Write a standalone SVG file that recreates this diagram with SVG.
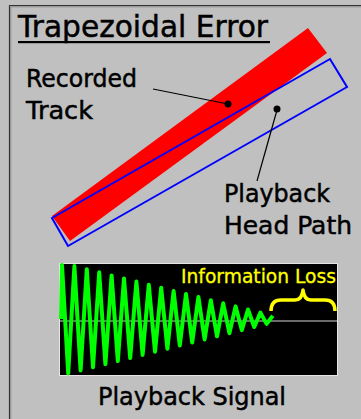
<svg xmlns="http://www.w3.org/2000/svg" width="361" height="419" viewBox="0 0 361 419">
<style>
.lbl{font-family:"DejaVu Sans","Liberation Sans",sans-serif;fill:#000;stroke:#000;stroke-width:0.5}
.lead{stroke:#000;stroke-width:1.2;fill:none}
</style>
<rect x="0" y="0" width="361" height="419" fill="#c0c0c0"/>
<g id="frame">
<path d="M9.5,419 V5.5 H361" fill="none" stroke="#333" stroke-width="1.2"/>
<path d="M10.8,419 V6.8 H361" fill="none" stroke="#8a8a8a" stroke-width="1"/>
</g>
<g id="title">
<text class="lbl" x="18" y="37" font-size="30" textLength="250" lengthAdjust="spacingAndGlyphs">Trapezoidal Error</text>
<rect x="18" y="41" width="252" height="2.2" fill="#000"/>
</g>
<g id="recorded-track">
<polygon points="52,216 308,28 327,53 70,241" fill="#ff0000"/>
</g>
<g id="head-path">
<polygon points="52,218 330,59 347,87 68,246" fill="none" stroke="#0000ff" stroke-width="2"/>
</g>
<g id="label-recorded">
<text class="lbl" x="26" y="87" font-size="24" textLength="111" lengthAdjust="spacingAndGlyphs">Recorded</text>
<text class="lbl" x="26" y="119" font-size="24" textLength="67" lengthAdjust="spacingAndGlyphs">Track</text>
</g>
<g id="label-playback">
<text class="lbl" x="224" y="202" font-size="24" textLength="106" lengthAdjust="spacingAndGlyphs">Playback</text>
<text class="lbl" x="224" y="234" font-size="24" textLength="128" lengthAdjust="spacingAndGlyphs">Head Path</text>
</g>
<g id="connectors">
<line class="lead" x1="153" y1="89" x2="228" y2="104"/>
<circle cx="228" cy="104" r="3.5" fill="#000"/>
<line class="lead" x1="277" y1="110" x2="257" y2="181"/>
<circle cx="277" cy="109" r="3.5" fill="#000"/>
</g>
<g id="signal">
<rect x="59.5" y="263.5" width="278" height="112" fill="#000" stroke="#e6e6e6" stroke-width="1"/>
<line x1="60" y1="321" x2="337" y2="321" stroke="#d8d8d8" stroke-width="1"/>
<polyline fill="none" stroke="#00ff00" stroke-width="4" stroke-linejoin="round" points="61,319 62,265 68.2,373.5 74.4,266.1 80.6,370.4 86.8,269.2 93,367.3 99.2,272.3 105.4,364.2 111.6,275.4 117.8,361.1 124,278.5 130.2,358 136.4,281.6 142.6,354.9 148.8,284.7 155,351.8 161.2,287.8 167.4,348.7 173.6,290.9 179.8,345.6 186,294 192.2,342.5 198.4,297.1 204.6,339.4 210.8,300.2 217,336.3 223.2,303.3 229.4,333.2 235.6,306.4 241.8,330.1 248,309.5 254.2,327 260.4,312.6 266.6,323.9 272.8,315.7"/>
<text x="181" y="283" font-size="19" fill="#ffff00" stroke="#ffff00" stroke-width="0.3" font-family="DejaVu Sans,Liberation Sans,sans-serif" textLength="155" lengthAdjust="spacingAndGlyphs">Information Loss</text>
<path d="M271,311 Q271,300 281,300 L295,300 Q302,300 303,290 Q304,300 311,300 L325,300 Q335,300 335,311" fill="none" stroke="#ffff00" stroke-width="3.5" stroke-linejoin="round"/>
</g>
<g id="label-signal">
<text class="lbl" x="98" y="405" font-size="24" textLength="188" lengthAdjust="spacingAndGlyphs">Playback Signal</text>
</g>
</svg>
